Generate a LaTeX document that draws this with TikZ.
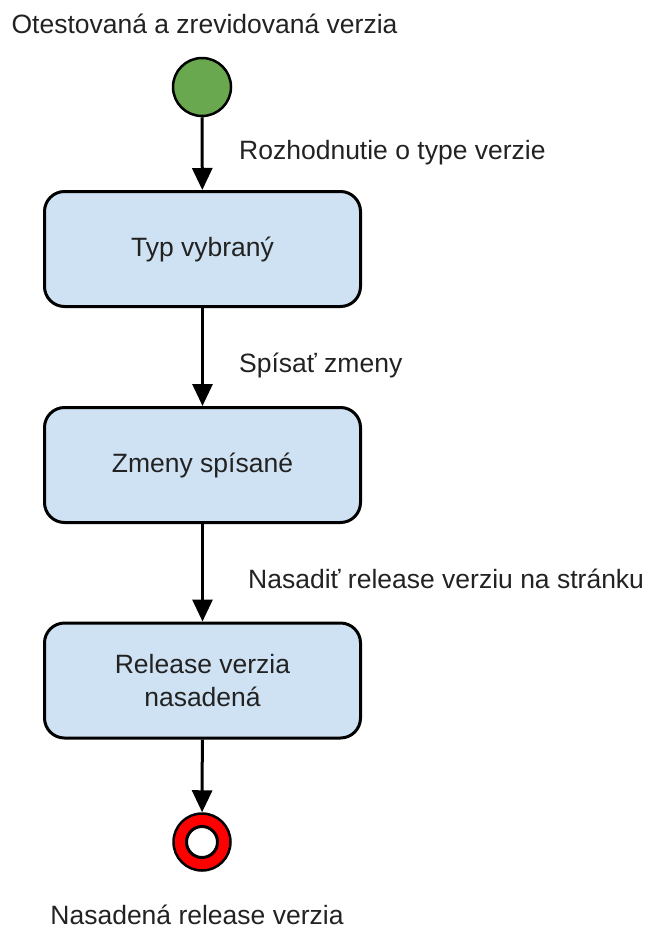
\documentclass[tikz,border=0pt]{standalone}
\usepackage{fontspec}
\setmainfont{Liberation Sans}
\usetikzlibrary{arrows.meta}
\definecolor{startgreen}{HTML}{6AA84F}
\definecolor{boxblue}{HTML}{CFE2F3}
\definecolor{endred}{HTML}{FF0000}
\definecolor{txt}{HTML}{222222}
\begin{document}
\begin{tikzpicture}[x=1pt,y=-1pt,
  every node/.style={font=\fontsize{26.5}{33}\selectfont, text=txt},
  statebox/.style={draw=black, line width=3pt, fill=boxblue, rounded corners=20pt,
    minimum width=316pt, minimum height=115pt, inner sep=0pt, align=center},
  flow/.style={line width=3pt, -{Triangle[width=20pt,length=22pt]}},
  lbl/.style={anchor=base west, inner sep=0pt}]
\useasboundingbox (0,0) rectangle (651,929);
% start
\node[lbl, anchor=base] (toplbl) at (204.5,33) {Otestovaná a zrevidovaná verzia};
\node[circle, draw=black, line width=2.5pt, fill=startgreen, minimum size=58pt, inner sep=0pt] (start) at (202,87) {};
% boxes
\node[statebox] (b1) at (202.5,249) {Typ vybraný};
\node[statebox] (b2) at (202.5,465) {Zmeny spísané};
\node[statebox] (b3) at (202.5,680.5) {Release verzia\\nasadená};
% end
\node[circle, draw=black, line width=2.5pt, fill=endred, minimum size=57pt, inner sep=0pt] (end) at (202,842) {};
\node[circle, draw=black, line width=3pt, fill=white, minimum size=31pt, inner sep=0pt] (endin) at (202,842) {};
\node[lbl, anchor=base] (botlbl) at (197,924) {Nasadená release verzia};
% connectors
\draw[flow] (start) -- (b1);
\draw[flow] (b1) -- (b2);
\draw[flow] (b2) -- (b3);
\draw[flow] (b3) -- (end);
% labels
\node[lbl] (l1) at (239,159.5) {Rozhodnutie o type verzie};
\node[lbl] (l2) at (239,372) {Spísať zmeny};
\node[lbl] (l3) at (248,588.3) {Nasadiť release verziu na stránku};
\end{tikzpicture}
\end{document}
